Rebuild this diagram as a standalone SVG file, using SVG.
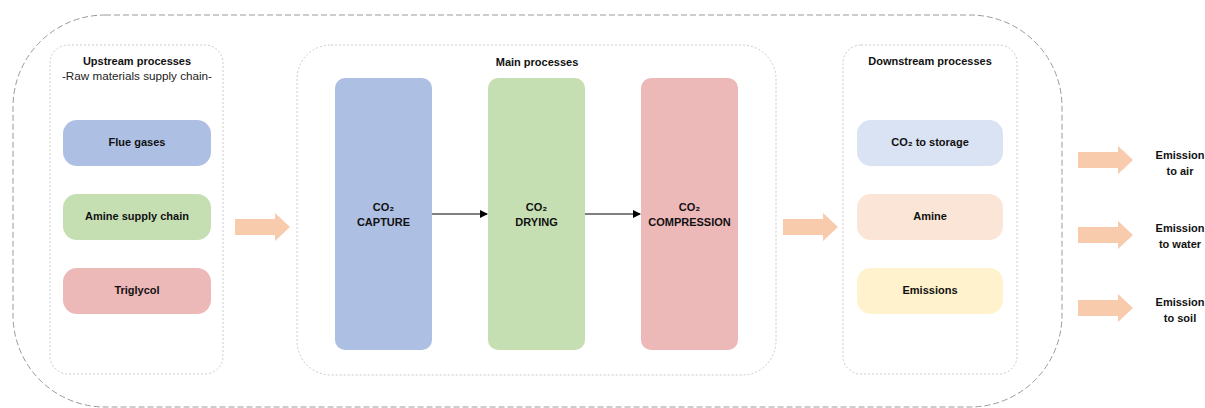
<svg xmlns="http://www.w3.org/2000/svg" width="1205" height="408" viewBox="0 0 1205 408">
<defs>
<style>
.outer{fill:none;stroke:#9a9a9a;stroke-width:1;stroke-dasharray:6 3}
.group{fill:#fff;stroke:#bdbdbd;stroke-width:0.8;stroke-dasharray:2 2}
.t{font-family:"Liberation Sans",Arial,sans-serif;font-size:11px;font-weight:bold;fill:#111;text-anchor:middle}
.r{font-family:"Liberation Sans",Arial,sans-serif;font-size:11.7px;fill:#222;text-anchor:middle}
.big{fill:#f8cbad}
.conn{stroke:#000;stroke-width:1.2;fill:none}
</style>
<marker id="ah" markerWidth="8" markerHeight="8" refX="7" refY="4" orient="auto" markerUnits="userSpaceOnUse">
<path d="M0,0 L8,4 L0,8 Z" fill="#000"/>
</marker>
<path id="fat" d="M0,-8 L40,-8 L40,-14 L55,0 L40,14 L40,8 L0,8 Z"/>
</defs>
<rect width="1205" height="408" fill="#fff"/>
<rect class="outer" x="13" y="15" width="1049" height="392" rx="92" ry="92"/>

<g id="upstream">
<rect class="group" x="50" y="45" width="173" height="329" rx="18"/>
<text class="t" x="137" y="65">Upstream processes</text>
<text class="r" x="137" y="80">-Raw materials supply chain-</text>
</g>
<g id="flue-gases"><rect x="63" y="120" width="148" height="46" rx="14" fill="#adc0e4"/><text class="t" x="137" y="146">Flue gases</text></g>
<g id="amine-supply"><rect x="63" y="194" width="148" height="46" rx="14" fill="#c5dfb3"/><text class="t" x="137" y="220">Amine supply chain</text></g>
<g id="triglycol"><rect x="63" y="268" width="148" height="46" rx="14" fill="#edb8b8"/><text class="t" x="137" y="294">Triglycol</text></g>

<g id="main">
<rect class="group" x="297" y="45" width="479" height="330" rx="34"/>
<text class="t" x="537" y="66">Main processes</text>
</g>
<g id="capture"><rect x="335" y="78" width="97" height="272" rx="10" fill="#adc0e4"/><text class="t" x="383.5" y="211">CO₂</text><text class="t" x="383.5" y="226">CAPTURE</text></g>
<g id="drying"><rect x="488" y="78" width="97" height="272" rx="10" fill="#c5dfb3"/><text class="t" x="536.5" y="211">CO₂</text><text class="t" x="536.5" y="226">DRYING</text></g>
<g id="compression"><rect x="641" y="78" width="97" height="272" rx="10" fill="#edb8b8"/><text class="t" x="689.5" y="211">CO₂</text><text class="t" x="689.5" y="226">COMPRESSION</text></g>

<g id="downstream">
<rect class="group" x="843" y="45" width="174" height="329" rx="18"/>
<text class="t" x="930" y="65">Downstream processes</text>
</g>
<g id="co2-storage"><rect x="857" y="120" width="146" height="46" rx="14" fill="#dae3f3"/><text class="t" x="930" y="146">CO₂ to storage</text></g>
<g id="amine"><rect x="857" y="194" width="146" height="46" rx="14" fill="#fbe5d6"/><text class="t" x="930" y="220">Amine</text></g>
<g id="emissions"><rect x="857" y="268" width="146" height="46" rx="14" fill="#fff2cc"/><text class="t" x="930" y="294">Emissions</text></g>

<g id="emission-air"><text class="t" x="1180" y="159">Emission</text><text class="t" x="1180" y="175">to air</text></g>
<g id="emission-water"><text class="t" x="1180" y="232">Emission</text><text class="t" x="1180" y="248">to water</text></g>
<g id="emission-soil"><text class="t" x="1180" y="306">Emission</text><text class="t" x="1180" y="322">to soil</text></g>

<g id="connectors">
<line class="conn" x1="432" y1="214" x2="487" y2="214" marker-end="url(#ah)"/>
<line class="conn" x1="585" y1="214" x2="640" y2="214" marker-end="url(#ah)"/>
<use href="#fat" class="big" x="235" y="227"/>
<use href="#fat" class="big" x="783" y="227"/>
<use href="#fat" class="big" x="1078" y="160"/>
<use href="#fat" class="big" x="1078" y="235"/>
<use href="#fat" class="big" x="1078" y="308"/>
</g>
</svg>
